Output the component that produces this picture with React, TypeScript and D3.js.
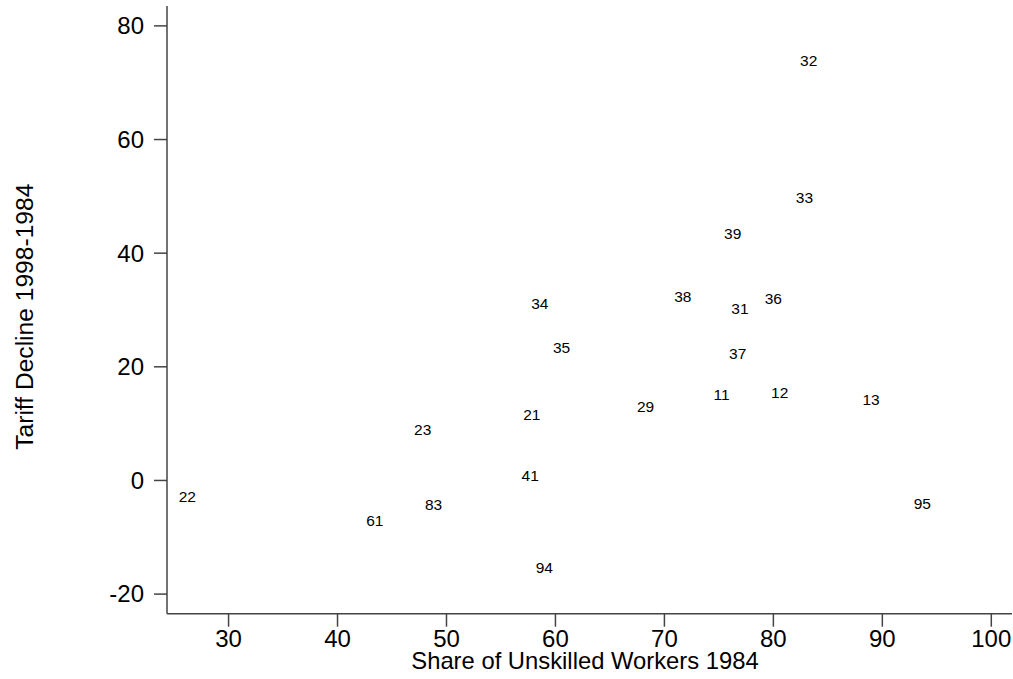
import React from "react";
import * as d3 from "d3";

const labels = ["32", "33", "39", "34", "35", "21", "23", "41", "22", "83", "61", "94", "38", "31", "36", "37", "11", "12", "13", "29", "95"];
const unskilled = [83.24, 82.85, 76.27, 58.57, 60.56, 57.83, 47.82, 57.68, 26.22, 48.81, 43.42, 58.98, 71.69, 76.93, 80.0, 76.73, 75.24, 80.58, 88.96, 68.27, 93.67];
const tariffDecline = [73.89, 49.77, 43.52, 31.2, 23.42, 11.67, 8.93, 0.83, -2.87, -4.17, -7.1, -15.32, 32.34, 30.19, 32.01, 22.27, 15.09, 15.44, 14.17, 12.99, -4.08];
const xTicks = [30, 40, 50, 60, 70, 80, 90, 100];
const yTicks = [-20, 0, 20, 40, 60, 80];
const xTitle = "Share of Unskilled Workers 1984";
const yTitle = "Tariff Decline 1998-1984";

const W = 1013;
const H = 679;
const FONT = "'Liberation Sans', Arial, Helvetica, sans-serif";

export default function App() {
  const x = d3.scaleLinear().domain([24.35, 101.9]).range([167, 1012]);
  const y = d3.scaleLinear().domain([-23.45, 83.5]).range([613.7, 6]);
  const [x0, x1] = x.range();
  const [yb, yt] = y.range();
  const tickLen = 13;
  const axisColor = "#444";

  const points = labels.map((l, i) => ({ l, xv: unskilled[i], yv: tariffDecline[i] }));

  return (
    <div style={{ position: "fixed", left: 0, top: 0, width: W, height: H, background: "#fff" }}>
      <svg width={W} height={H} style={{ display: "block", fontFamily: FONT }}>
        <rect x={0} y={0} width={W} height={H} fill="#fff" />
        {/* y axis */}
        <line x1={x0} x2={x0} y1={yt} y2={yb} stroke={axisColor} strokeWidth={1.5} />
        {yTicks.map((t) => (
          <g key={"y" + t}>
            <line x1={x0 - tickLen} x2={x0} y1={y(t)} y2={y(t)} stroke={axisColor} strokeWidth={1.5} />
            <text x={x0 - tickLen - 10} y={y(t)} dy="0.35em" textAnchor="end" fontSize={24} fill="#000">
              {t}
            </text>
          </g>
        ))}
        {/* x axis */}
        <line x1={x0} x2={x1} y1={yb} y2={yb} stroke={axisColor} strokeWidth={1.5} />
        {xTicks.map((t) => (
          <g key={"x" + t}>
            <line x1={x(t)} x2={x(t)} y1={yb} y2={yb + tickLen} stroke={axisColor} strokeWidth={1.5} />
            <text x={x(t)} y={646.5} textAnchor="middle" fontSize={24} fill="#000">
              {t}
            </text>
          </g>
        ))}
        <text x={585} y={669} textAnchor="middle" fontSize={23.8} fill="#000">
          {xTitle}
        </text>
        <text
          transform={`translate(33, ${316.7}) rotate(-90)`}
          textAnchor="middle"
          fontSize={24.6}
          fill="#000"
        >
          {yTitle}
        </text>
        {/* marker labels */}
        {points.map((p) => (
          <text
            key={p.l}
            x={x(p.xv)}
            y={y(p.yv)}
            dy="0.35em"
            textAnchor="middle"
            fontSize={15.5}
            fill="#000"
          >
            {p.l}
          </text>
        ))}
      </svg>
    </div>
  );
}
